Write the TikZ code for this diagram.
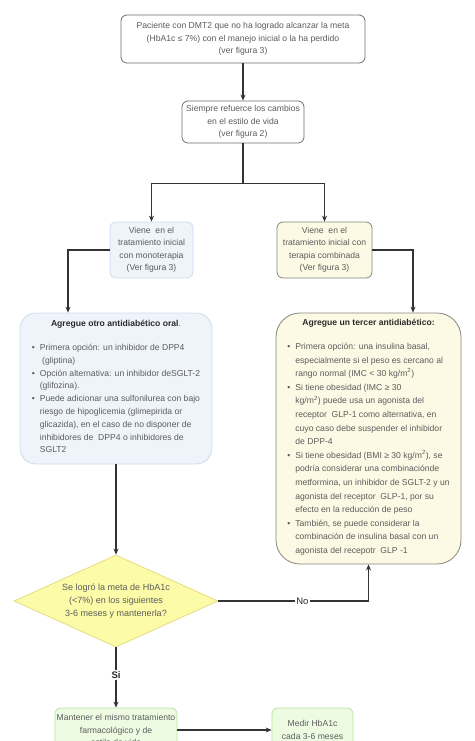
\documentclass[tikz,border=0pt]{standalone}
\usepackage{fontspec}
\setmainfont{Liberation Sans}
\usetikzlibrary{shapes.geometric,arrows.meta,calc}
\definecolor{txt}{HTML}{5C5C5C}
\definecolor{ttl}{HTML}{2A2A2A}
\definecolor{linec}{HTML}{333333}
\definecolor{graybd}{HTML}{6E6E6E}
\definecolor{bluef}{HTML}{EEF4FA}
\definecolor{blueb}{HTML}{CCDDEC}
\definecolor{creamf}{HTML}{FCFAE4}
\definecolor{creamb}{HTML}{85857C}
\definecolor{diaf}{HTML}{FCFCA8}
\definecolor{diab}{HTML}{E4DC80}
\definecolor{greenf}{HTML}{EDFBE3}
\definecolor{greenb}{HTML}{B5E59C}
\begin{document}
\begin{tikzpicture}[x=1pt,y=-1pt,
  base/.style={rounded corners=6pt, draw=graybd, line width=0.8pt, text=txt,
    font=\fontsize{8.6}{12.5}\selectfont, align=center, inner sep=0pt},
  conn/.style={draw=linec, line width=1.1pt, -{Stealth[length=6pt,width=5pt]}},
  lbl/.style={fill=white, text=ttl, font=\fontsize{9.5}{11}\selectfont, inner sep=1.5pt},
]
\useasboundingbox (0,0) rectangle (474,741);
\clip (0,0) rectangle (474,741);

\node[base, fill=white, minimum width=244pt, minimum height=48pt] (b1) at (243,39)
  {Paciente con DMT2 que no ha logrado alcanzar la meta\\(HbA1c ≤ 7\%) con el manejo inicial o la ha perdido\\(ver figura 3)};
\node[base, fill=white, minimum width=122pt, minimum height=42pt] (b2) at (243,122)
  {Siempre refuerce los cambios\\en el estilo de vida\\(ver figura 2)};
\node[base, fill=bluef, draw=blueb, minimum width=83pt, minimum height=56pt] (b3) at (151.5,250)
  {Viene\ \ en el\\tratamiento inicial\\con monoterapia\\(Ver figura 3)};
\node[base, fill=creamf, draw=creamb, minimum width=95pt, minimum height=56pt] (b4) at (324.5,250)
  {Viene\ \ en el\\tratamiento inicial con\\terapia combinada\\(Ver figura 3)};

\node[base, font=\fontsize{8.6}{12.8}\selectfont, fill=bluef, draw=blueb, rounded corners=16pt, minimum width=192pt, minimum height=151pt] (b5) at (116,388.5)
  {{\color{ttl}\bfseries Agregue otro antidiabético oral}.\\[12pt]
   \begin{tabular}{@{}c@{\hspace{5pt}}l@{}}
   \textbullet & Primera opción: un inhibidor de DPP4\\
    & \ (gliptina)\\
   \textbullet & Opción alternativa: un inhibidor deSGLT-2\\
    & (glifozina).\\
   \textbullet & Puede adicionar una sulfonilurea con bajo\\
    & riesgo de hipoglicemia (glimepirida or\\
    & glicazida), en el caso de no disponer de\\
    & inhibidores de\ \ DPP4 o inhibidores de\\
    & SGLT2
   \end{tabular}};

\node[base, font=\fontsize{8.6}{13.6}\selectfont, fill=creamf, draw=creamb, rounded corners=24pt, minimum width=185pt, minimum height=251pt] (b6) at (368.5,438.5)
  {{\color{ttl}\bfseries Agregue un tercer antidiabético:}\\[11.5pt]
   \begin{tabular}{@{}c@{\hspace{5pt}}l@{}}
   \textbullet & Primera opción: una insulina basal,\\
    & especialmente si el peso es cercano al\\
    & rango normal (IMC < 30 kg/m\textsuperscript{2})\\
   \textbullet & Si tiene obesidad (IMC ≥ 30\\
    & kg/m\textsuperscript{2}) puede usa un agonista del\\
    & receptor\ \ GLP-1 como alternativa, en\\
    & cuyo caso debe suspender el inhibidor\\
    & de DPP-4\\
   \textbullet & Si tiene obesidad (BMI ≥ 30 kg/m\textsuperscript{2}), se\\
    & podría considerar una combinaciónde\\
    & metformina, un inhibidor de SGLT-2 y un\\
    & agonista del receptor\ \ GLP-1, por su\\
    & efecto en la reducción de peso\\
   \textbullet & También, se puede considerar la\\
    & combinación de insulina basal con un\\
    & agonista del recepotr\ \ GLP -1
   \end{tabular}};

\node[diamond, aspect=2.2, minimum width=204pt, minimum height=92pt, inner sep=0pt,
  fill=diaf, draw=diab, line width=0.8pt, text=txt, align=center,
  font=\fontsize{9}{12.8}\selectfont] (dia) at (116,601)
  {Se logró la meta de HbA1c\\(<7\%) en los siguientes\\3-6 meses y mantenerla?};

\node[base, fill=greenf, draw=greenb, minimum width=122pt, minimum height=44pt] (b7) at (116,730)
  {Mantener el mismo tratamiento\\farmacológico y de\\estilo de vida};
\node[base, fill=greenf, draw=greenb, minimum width=81pt, minimum height=44pt] (b8) at (312.5,730)
  {Medir HbA1c\\cada 3-6 meses};

% connectors
\draw[conn] (b1.south) -- (b2.north);
\coordinate (j) at ($(b2.south)+(0,40)$);
\draw[draw=linec, line width=1.1pt] (b2.south) -- (j);
\draw[conn] (j) -| (b3.north);
\draw[conn] (j) -| (b4.north);
\draw[conn] (b3.west) -| ([xshift=-48pt]b5.north);
\draw[conn] (b4.east) -| ([xshift=44.5pt]b6.north);
\draw[conn] (b5.south) -- (dia.north);
\draw[conn] (dia.east) -| node[lbl, pos=0.28] {No} (b6.south);
\draw[conn] (dia.south) -- node[lbl, pos=0.46, font=\bfseries\fontsize{9.5}{11}\selectfont] {Si} (b7.north);
\draw[conn] (b7.east) -- (b8.west);
\end{tikzpicture}
\end{document}
